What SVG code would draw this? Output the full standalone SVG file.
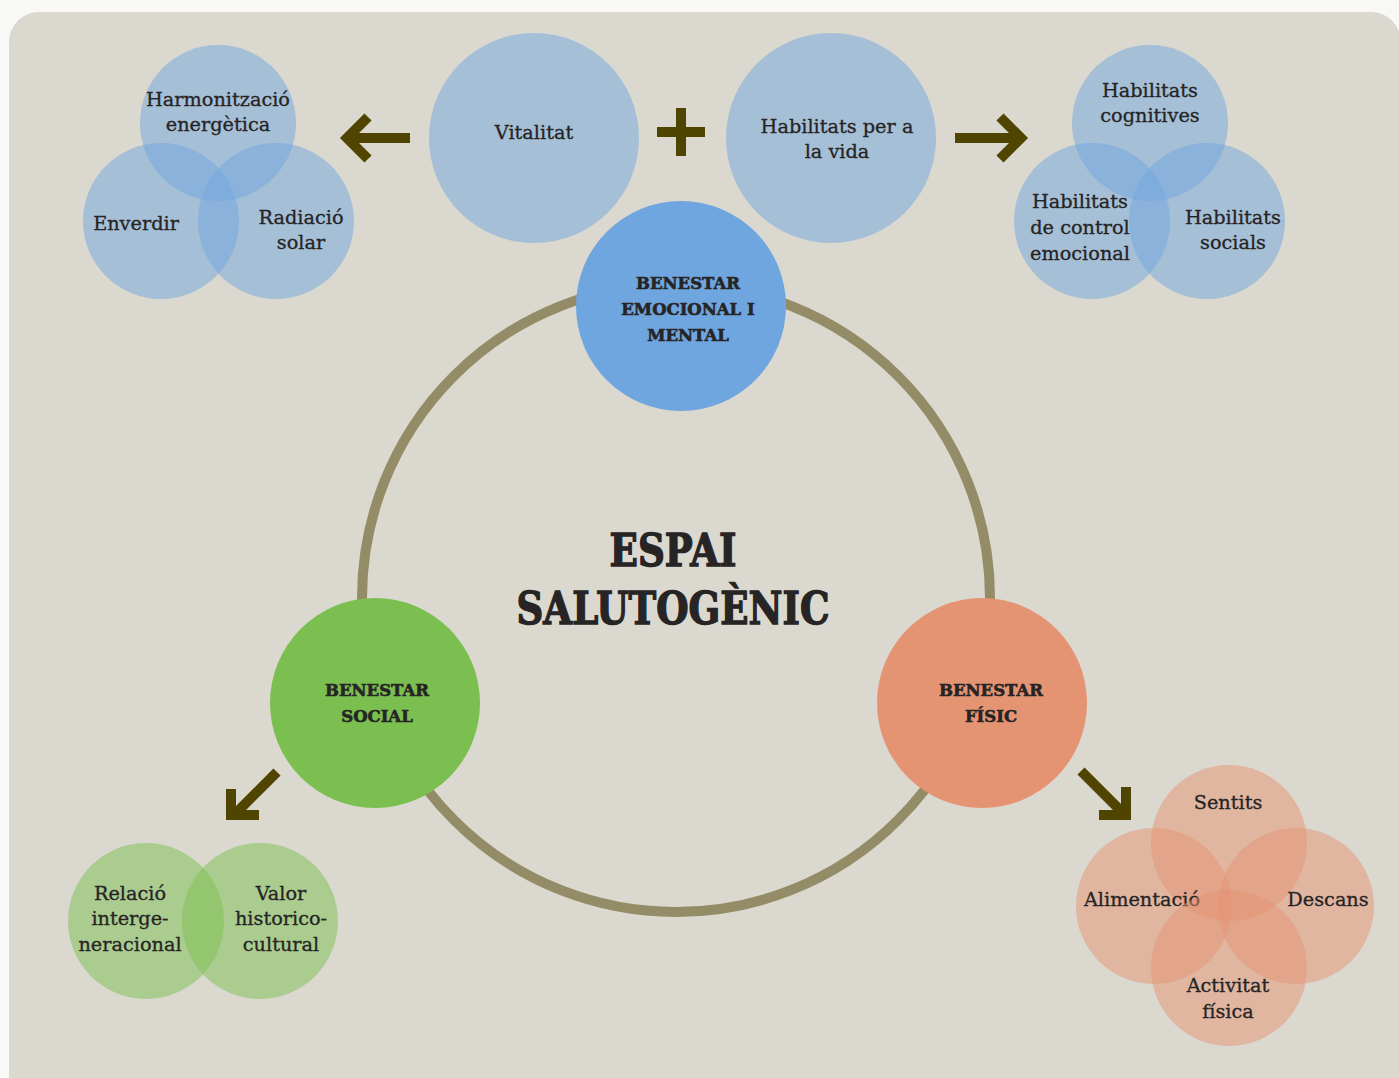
<svg xmlns="http://www.w3.org/2000/svg" width="1399" height="1078" viewBox="0 0 1399 1078">
<style>
.t{font-family:"DejaVu Serif","Liberation Serif",serif;font-size:19.3px;fill:#262424;stroke:#262424;stroke-width:0.3;text-anchor:middle}
.h{font-family:"DejaVu Serif","Liberation Serif",serif;font-size:16.5px;font-weight:bold;fill:#262424;stroke:#262424;stroke-width:0.6;text-anchor:middle}
.ttl{font-family:"DejaVu Serif","Liberation Serif",serif;font-size:44px;font-weight:bold;fill:#262424;stroke:#262424;stroke-width:1.4;text-anchor:middle}
.b{fill:#6fa6df;fill-opacity:0.5}
.g{fill:#7bbf50;fill-opacity:0.5}
.o{fill:#e59473;fill-opacity:0.5}
.arr{fill:none;stroke:#4f4500;stroke-width:10;stroke-linejoin:miter}
</style>
<rect x="0" y="0" width="1399" height="1078" fill="#f8f8f7"/>
<rect x="9" y="12" width="1392" height="1100" rx="30" fill="#dbd8cf"/>

<g id="connectors">
<circle cx="676" cy="598" r="314" fill="none" stroke="#948c66" stroke-width="10"/>
<path class="arr" d="M410,138 H346 M368,117 L347,138 L368,159"/>
<path class="arr" d="M955,138 H1020 M1000,117 L1021,138 L1000,159"/>
<path class="arr" d="M277,772 L236,813 M231,789 V815 H259"/>
<path class="arr" d="M1081,771 L1122,812 M1126,787 V815 H1099"/>
<g id="plus" fill="#4f4500"><rect x="676" y="108" width="10" height="48"/><rect x="657" y="127" width="48" height="10"/></g>
</g>

<g id="vitalitat"><circle class="b" cx="534" cy="138" r="105"/><text class="t" x="534" y="139">Vitalitat</text></g>
<g id="habilitats-vida"><circle class="b" cx="831" cy="138" r="105"/><text class="t" x="837" y="133">Habilitats per a</text><text class="t" x="837" y="158">la vida</text></g>

<g id="benestar-emocional"><circle cx="681" cy="306" r="105" fill="#6fa6df"/><text class="h" x="688" y="289">BENESTAR</text><text class="h" x="688" y="315">EMOCIONAL I</text><text class="h" x="688" y="341">MENTAL</text></g>
<g id="benestar-social"><circle cx="375" cy="703" r="105" fill="#7bbf50"/><text class="h" x="377" y="696">BENESTAR</text><text class="h" x="377" y="722">SOCIAL</text></g>
<g id="benestar-fisic"><circle cx="982" cy="703" r="105" fill="#e59473"/><text class="h" x="991" y="696">BENESTAR</text><text class="h" x="991" y="722">FÍSIC</text></g>

<g id="title"><text class="ttl" x="673" y="566" textLength="127" lengthAdjust="spacingAndGlyphs">ESPAI</text><text class="ttl" x="673" y="624" textLength="313" lengthAdjust="spacingAndGlyphs">SALUTOGÈNIC</text></g>

<g id="harmonitzacio"><circle class="b" cx="218" cy="123" r="78"/><text class="t" x="218" y="106">Harmonització</text><text class="t" x="218" y="131">energètica</text></g>
<g id="enverdir"><circle class="b" cx="161" cy="221" r="78"/><text class="t" x="136" y="230">Enverdir</text></g>
<g id="radiacio"><circle class="b" cx="276" cy="221" r="78"/><text class="t" x="301" y="224">Radiació</text><text class="t" x="301" y="249">solar</text></g>

<g id="hab-cognitives"><circle class="b" cx="1150" cy="123" r="78"/><text class="t" x="1150" y="97">Habilitats</text><text class="t" x="1150" y="122">cognitives</text></g>
<g id="hab-control"><circle class="b" cx="1092" cy="221" r="78"/><text class="t" x="1080" y="208">Habilitats</text><text class="t" x="1080" y="234">de control</text><text class="t" x="1080" y="260">emocional</text></g>
<g id="hab-socials"><circle class="b" cx="1207" cy="221" r="78"/><text class="t" x="1233" y="224">Habilitats</text><text class="t" x="1233" y="249">socials</text></g>

<g id="relacio"><circle class="g" cx="146" cy="921" r="78"/><text class="t" x="130" y="900">Relació</text><text class="t" x="130" y="925">interge-</text><text class="t" x="130" y="951">neracional</text></g>
<g id="valor"><circle class="g" cx="260" cy="921" r="78"/><text class="t" x="281" y="900">Valor</text><text class="t" x="281" y="925">historico-</text><text class="t" x="281" y="951">cultural</text></g>

<g id="sentits"><circle class="o" cx="1229" cy="843" r="78"/><text class="t" x="1228" y="809">Sentits</text></g>
<g id="alimentacio"><circle class="o" cx="1154" cy="906" r="78"/><text class="t" x="1142" y="906">Alimentació</text></g>
<g id="descans"><circle class="o" cx="1296" cy="906" r="78"/><text class="t" x="1328" y="906">Descans</text></g>
<g id="activitat"><circle class="o" cx="1229" cy="968" r="78"/><text class="t" x="1228" y="992">Activitat</text><text class="t" x="1228" y="1018">física</text></g>
</svg>
